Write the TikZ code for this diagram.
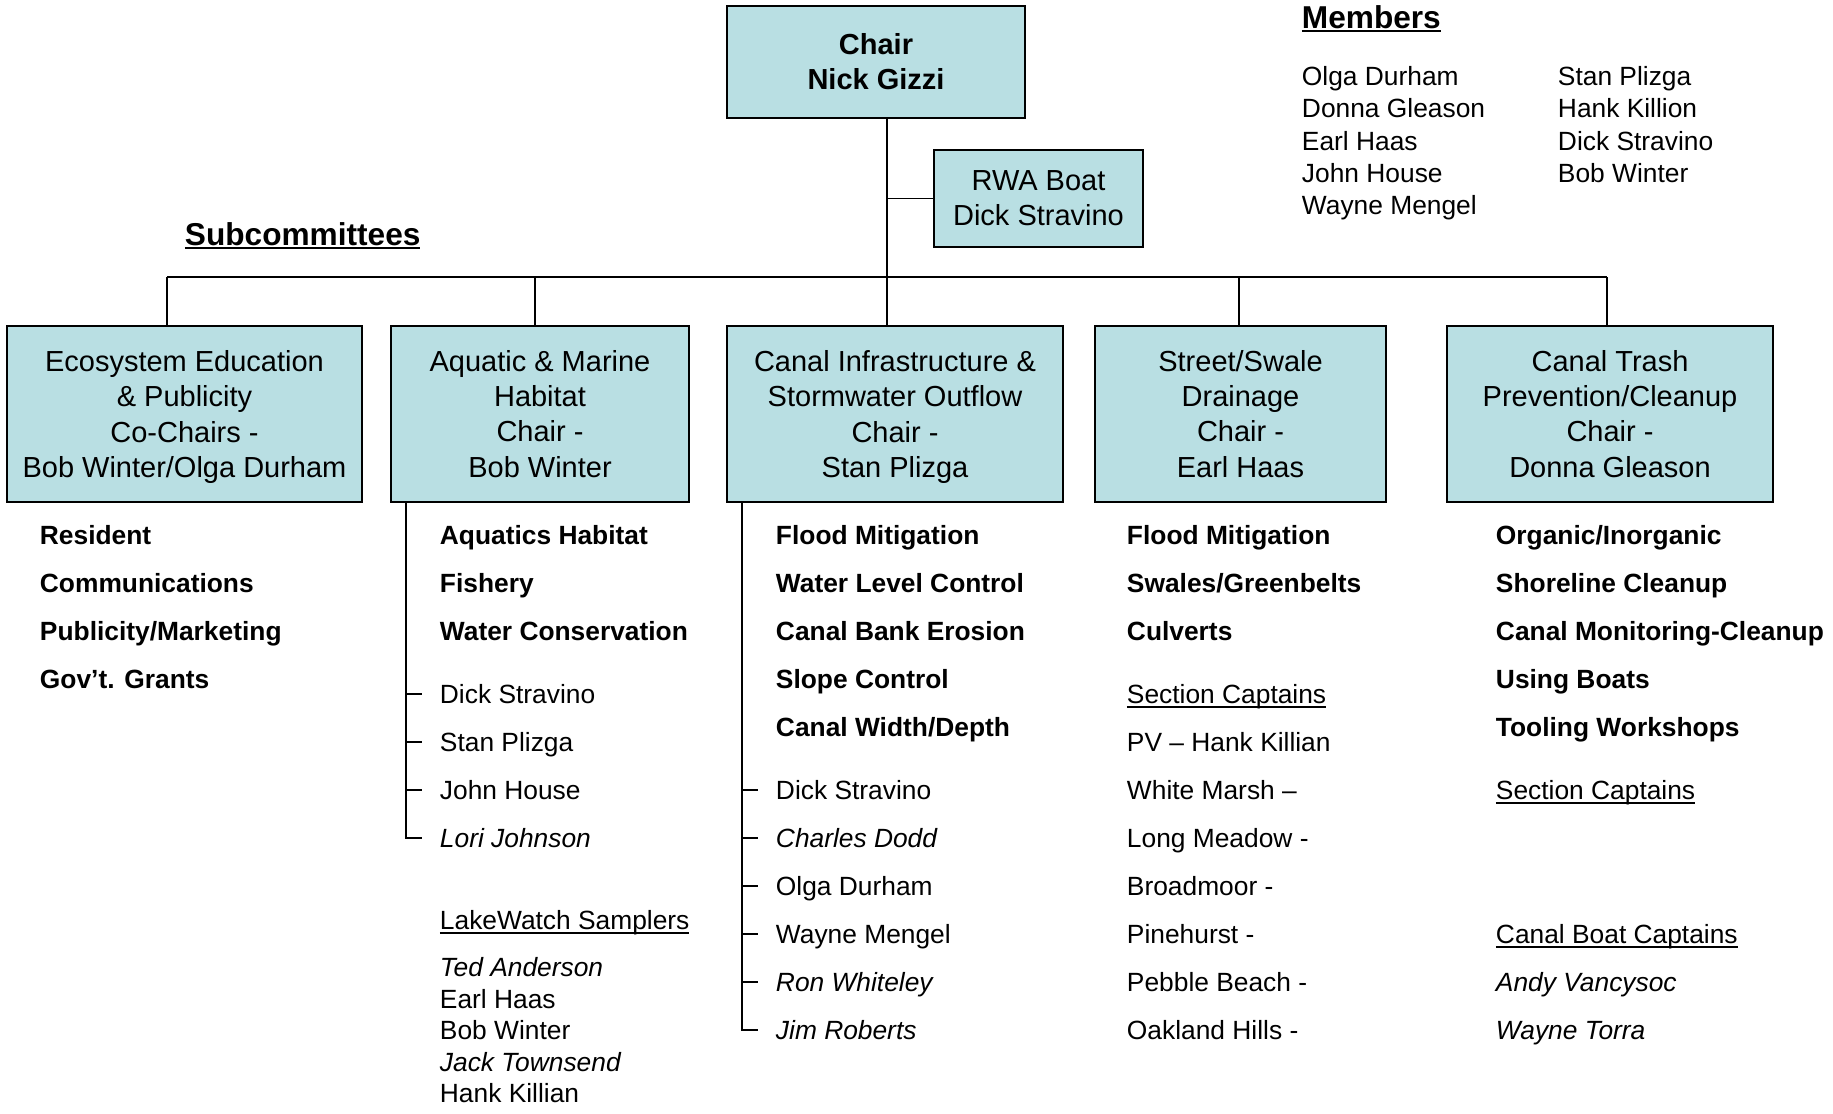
\documentclass[tikz,border=0pt]{standalone}
\usepackage{fontspec}
\setmainfont{Liberation Sans}
\usetikzlibrary{positioning}

\definecolor{boxfill}{RGB}{185,223,227}
\newsavebox{\undlbox}
\newcommand{\undl}[2][0.8pt]{\sbox{\undlbox}{#2}\rlap{\rule[-2.4pt]{\wd\undlbox}{#1}}\usebox{\undlbox}}

\begin{document}
\begin{tikzpicture}[x=0.02cm, y=-0.02cm, line width=1.1pt,
    topic/.style={anchor=west, inner sep=0pt, text height=13pt, text depth=2pt,
      font=\bfseries\fontsize{15}{18}\selectfont},
    member/.style={anchor=west, inner sep=0pt, text height=13pt, text depth=2pt,
      font=\fontsize{15}{18}\selectfont},
    heading/.style={anchor=base west, inner sep=0pt,
      font=\bfseries\fontsize{18}{22}\selectfont}]
  \useasboundingbox (0,0) rectangle (1833,1113);

  % boxes
  \begin{scope}[every node/.style={draw, fill=boxfill, align=center, inner sep=0pt,
      minimum height=3.52cm, font=\fontsize{16.5}{20}\selectfont}]
    \node (chair)[minimum width=5.96cm, minimum height=2.24cm,
      font=\bfseries\fontsize{16.5}{20}\selectfont] at (876,62) {Chair\\Nick Gizzi};
    \node (boat)[minimum width=4.18cm, minimum height=1.94cm] at (1038.5,198.5) {RWA Boat\\Dick Stravino};
    \node (eco)[minimum width=7.1cm] at (184.5,414) {Ecosystem Education\\\& Publicity\\Co-Chairs -\\\smash{Bob Winter/Olga Durham}};
    \node (aqua)[minimum width=5.96cm] at (540,414) {Aquatic \& Marine\\Habitat\\Chair -\\Bob Winter};
    \node (infra)[minimum width=6.72cm] at (895,414) {Canal Infrastructure \&\\Stormwater Outflow\\Chair -\\\smash{Stan Plizga}};
    \node (street)[minimum width=5.82cm] at (1240.5,414) {Street/Swale\\Drainage\\Chair -\\Earl Haas};
    \node (trash)[minimum width=6.52cm] at (1610,414) {Canal Trash\\Prevention/Cleanup\\Chair -\\Donna Gleason};
  \end{scope}

  % connectors
  \coordinate (trunk) at (887,277);
  \coordinate (d1) at (167,277);
  \coordinate (d2) at (535,277);
  \coordinate (d4) at (1239,277);
  \coordinate (d5) at (1607,277);
  \draw (chair.south -| trunk) -- (infra.north -| trunk);
  \draw (boat.west) -- (boat.west -| trunk);
  \draw (d1) -- (d5);
  \foreach \d/\b in {d1/eco, d2/aqua, d4/street, d5/trash}
    \draw (\d) -- (\d |- \b.north);

  % headings
  \node[heading] (subs) at (184,245) {\undl[1.3pt]{Subcommittees}};
  \node[heading] (members) at (1301,28) {\undl[1.3pt]{Members}};
  \foreach \t [count=\i from 0] in {Olga Durham, Donna Gleason, Earl Haas, John House, Wayne Mengel}
    \node[member] (mleft\i) at (1301,{76+32.2*\i}) {\t};
  \foreach \t [count=\i from 0] in {Stan Plizga, Hank Killion, Dick Stravino, Bob Winter}
    \node[member] (mright\i) at (1557,{76+32.2*\i}) {\t};

  % ecosystem
  \foreach \t [count=\i from 0] in {Resident, Communications, {Publicity/Marketing}, Gov’t. Grants}
    \node[topic] (eco\i) at (39,{535+48*\i}) {\t};

  % aquatic
  \foreach \t [count=\i from 0] in {Aquatics Habitat, Fishery, Water Conservation}
    \node[topic] (aqt\i) at (439,{535+48*\i}) {\t};
  \foreach \t [count=\i from 0] in {Dick Stravino, Stan Plizga, John House, \textit{Lori Johnson}}
    \node[member] (aq\i) at (439,{694+48*\i}) {\t};
  \coordinate (aqroot) at ([xshift=0.32cm]aqua.south west);
  \foreach \i in {0,...,3}
    \draw (aqroot) |- ([xshift=-0.34cm]aq\i.west);
  \node[member] (lake) at (439,920) {\undl{LakeWatch Samplers}};
  \foreach \t [count=\i from 0] in {\textit{Ted Anderson}, Earl Haas, Bob Winter, \textit{Jack Townsend}, Hank Killian}
    \node[member] (lake\i) at (439,{967+31.5*\i}) {\t};

  % canal infrastructure
  \foreach \t [count=\i from 0] in {Flood Mitigation, Water Level Control, Canal Bank Erosion, Slope Control, {Canal Width/Depth}}
    \node[topic] (inft\i) at (775,{535+48*\i}) {\t};
  \foreach \t [count=\i from 0] in {Dick Stravino, \textit{Charles Dodd}, Olga Durham, Wayne Mengel, \textit{Ron Whiteley}, \textit{Jim Roberts}}
    \node[member] (inf\i) at (775,{790+48*\i}) {\t};
  \coordinate (infroot) at ([xshift=0.32cm]infra.south west);
  \foreach \i in {0,...,5}
    \draw (infroot) |- ([xshift=-0.34cm]inf\i.west);

  % street/swale
  \foreach \t [count=\i from 0] in {Flood Mitigation, {Swales/Greenbelts}, Culverts}
    \node[topic] (strt\i) at (1126,{535+48*\i}) {\t};
  \node[member] (strcapt) at (1126,694) {\undl{Section Captains}};
  \foreach \t [count=\i from 0] in {PV – Hank Killian, White Marsh –, Long Meadow -, Broadmoor -, Pinehurst -, Pebble Beach -, Oakland Hills -}
    \node[member] (str\i) at (1126,{742+48*\i}) {\t};

  % canal trash
  \foreach \t [count=\i from 0] in {{Organic/Inorganic}, Shoreline Cleanup, Canal Monitoring-Cleanup, Using Boats, Tooling Workshops}
    \node[topic] (trt\i) at (1495,{535+48*\i}) {\t};
  \node[member] (trcapt) at (1495,790) {\undl{Section Captains}};
  \node[member] (trboat) at (1495,934) {\undl{Canal Boat Captains}};
  \node[member] (tr0) at (1495,982) {\textit{Andy Vancysoc}};
  \node[member] (tr1) at (1495,1030) {\textit{Wayne Torra}};
\end{tikzpicture}
\end{document}
